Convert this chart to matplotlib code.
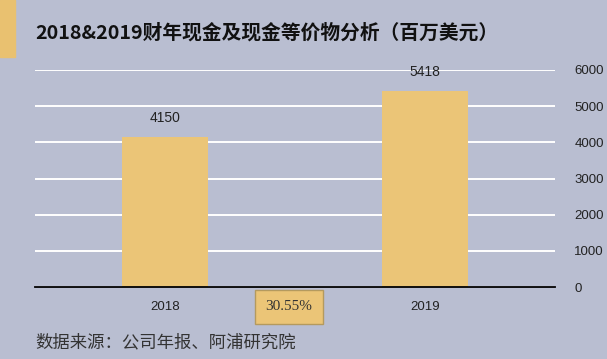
import numpy as np
import matplotlib.pyplot as plt
from matplotlib.patches import Rectangle

years = ["2018", "2019"]
cash = [4150, 5418]
growth_label = "30.55%"
yticks = [0, 1000, 2000, 3000, 4000, 5000, 6000]

bg = "#B9BED1"
gold = "#EBC577"

plt.rcParams["font.family"] = ["Noto Sans CJK SC", "DejaVu Sans"]

fig = plt.figure(figsize=(6.07, 3.59), dpi=100, facecolor=bg)
ax = fig.add_axes([35 / 607, 1 - 287 / 359, 520 / 607, 217 / 359])
ax.set_facecolor(bg)

xs = np.arange(len(years))
bars = ax.bar(xs, cash, width=0.33, color=gold, zorder=3)
for x, v in zip(xs, cash):
    ax.text(x, v + 320, str(v), ha="center", va="bottom", fontsize=10,
            family="Liberation Sans", color="#222222")

ax.set_xlim(-0.5, 1.5)
ax.set_ylim(0, 6000)
ax.set_yticks(yticks)
ax.yaxis.tick_right()
ax.tick_params(axis="y", length=0, pad=14, labelsize=9.5, colors="#222222")
ax.tick_params(axis="x", length=0, pad=10, labelsize=9.5, colors="#222222")
ax.set_xticks(xs)
ax.set_xticklabels(years, family="Liberation Sans")
for lab in ax.get_yticklabels():
    lab.set_family("Liberation Sans")
ax.grid(axis="y", color="white", linewidth=1.4, zorder=0)
for s in ["top", "right", "left"]:
    ax.spines[s].set_visible(False)
ax.spines["bottom"].set_color("black")
ax.spines["bottom"].set_linewidth(1.3)
ax.spines["bottom"].set_zorder(4)

# left gold strip and title
fig.patches.append(Rectangle((0, 1 - 57 / 359), 15 / 607, 57 / 359,
                             transform=fig.transFigure, color="#E9C170"))
fig.text(35 / 607, 1 - 33 / 359, "2018&2019财年现金及现金等价物分析（百万美元）",
         fontsize=14.2, fontweight="bold", va="center", ha="left", color="#111111")

# growth box
fig.text(289 / 607, 1 - 307 / 359, growth_label, ha="center", va="center",
         fontsize=11, family="Liberation Serif", color="#333333",
         bbox=dict(boxstyle="square,pad=0.7", fc=gold, ec="#B49A5E", lw=1))

fig.text(35 / 607, 1 - 342 / 359, "数据来源：公司年报、阿浦研究院", fontsize=12.5,
         va="center", ha="left", color="#333333")

fig.savefig("out.png", dpi=100, facecolor=bg)
